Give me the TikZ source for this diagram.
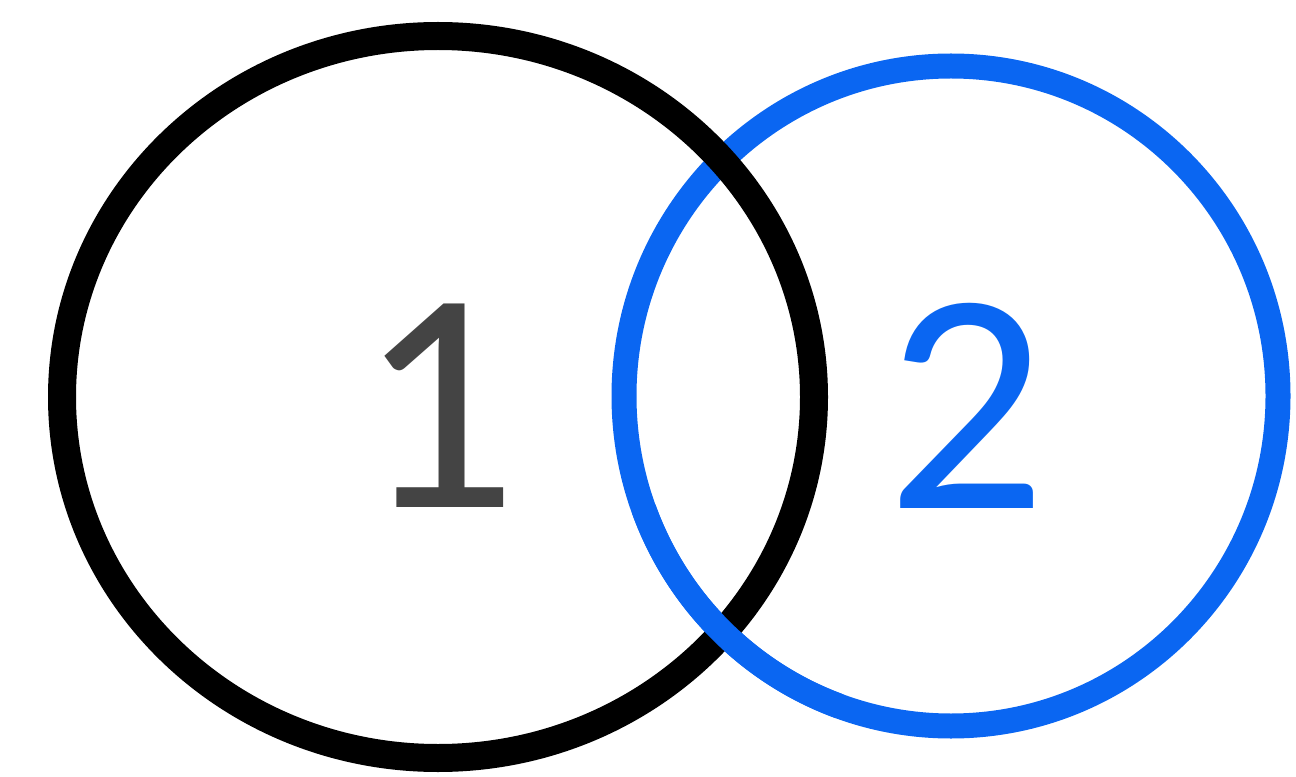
\documentclass[tikz,border=0pt]{standalone}
\usepackage{fontspec}
\setmainfont{Carlito}
\usetikzlibrary{calc}
\definecolor{brushblue}{HTML}{0A66F2}
\definecolor{numgray}{HTML}{444444}
\begin{document}
\begin{tikzpicture}
\useasboundingbox (0,0) rectangle (12.96,7.76);
\tikzset{
  blackring/.style={draw=black, line width=0.28cm},
  bluering/.style={draw=brushblue, line width=0.25cm},
  numlabel/.style={font=\fontsize{90}{90}\selectfont, inner sep=0pt}
}
\coordinate (c2) at (9.51,3.80);
\coordinate (c1) at (4.38,3.79);
% blue ring
\draw[bluering] (c2) ellipse [x radius=3.27, y radius=3.30];
% black ring
\draw[blackring] (c1) ellipse [x radius=3.76, y radius=3.61];
% blue over black at the lower crossing
\draw[bluering] ($(c2)+(200:3.27 and 3.30)$) arc [start angle=200, end angle=250, x radius=3.27, y radius=3.30];
\node[numlabel, text=numgray] (n1) at (4.38,3.70) {1};
\node[numlabel, text=brushblue] (n2) at (9.67,3.70) {2};
\end{tikzpicture}
\end{document}
